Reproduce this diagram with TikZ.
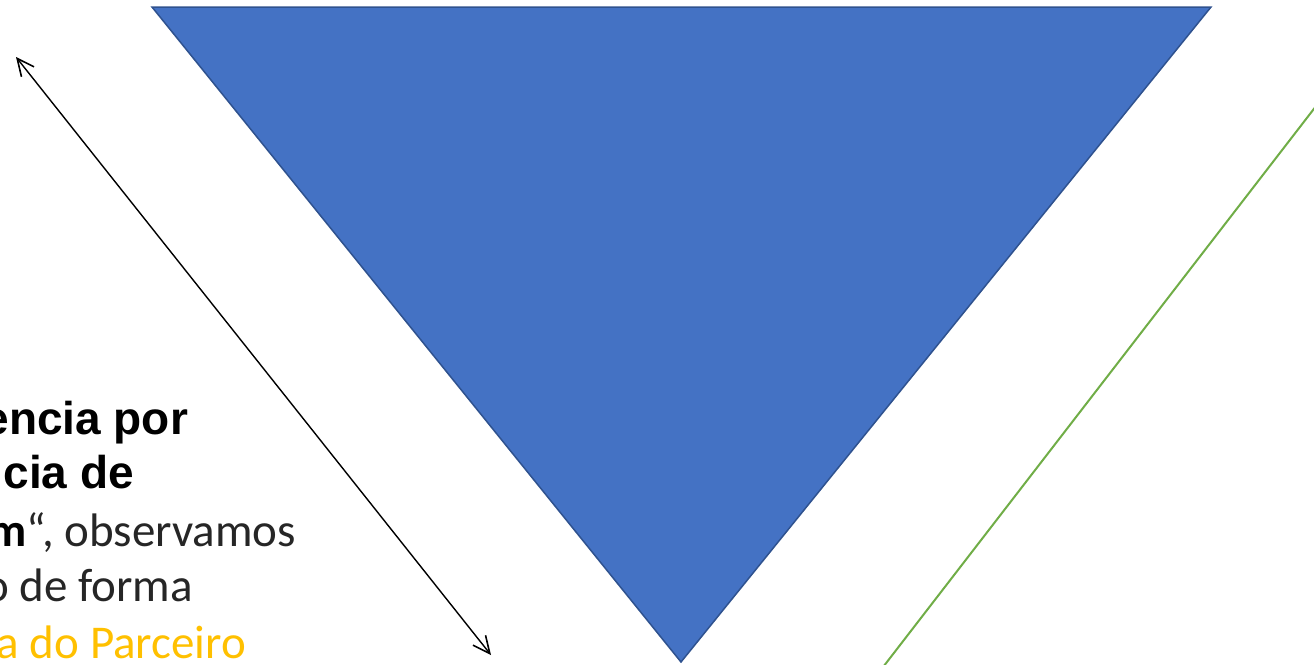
\documentclass[tikz,border=0pt]{standalone}
\usepackage{fontspec}
\setmainfont{Carlito}
\newfontfamily\arialbold{Liberation Sans}
\usetikzlibrary{arrows.meta}
\definecolor{triFill}{HTML}{4472C4}
\definecolor{triEdge}{HTML}{2F528F}
\definecolor{greenLine}{HTML}{70AD47}
\definecolor{bodyText}{HTML}{262626}
\definecolor{accentOrange}{HTML}{FFC000}
\tikzset{
  txtline/.style={anchor=base east, inner sep=0pt, outer sep=0pt},
  boldline/.style={txtline, font=\fontsize{46}{54}\selectfont\arialbold\bfseries, text=black},
  bodyline/.style={txtline, font=\fontsize{47}{56}\selectfont, text=bodyText},
  dimarrow/.style={draw=black, line width=1.4pt, {Straight Barb[length=17pt,width=16pt,line width=1.6pt]}-{Straight Barb[length=17pt,width=16pt,line width=1.6pt]}},
}
\begin{document}
\begin{tikzpicture}[x=1pt,y=-1pt]
\useasboundingbox (0,0) rectangle (1314,664);
\clip (0,0) rectangle (1314,664);
% inverted triangle
\draw[fill=triFill, draw=triEdge, line width=1.5pt, line join=miter]
  (152,7) -- (1211,7) -- (681,662) -- cycle;
% green line
\coordinate (gA) at (1330,88);
\coordinate (gB) at (880,671);
\draw[greenLine, line width=2pt] (gA) -- (gB);
% double arrow
\coordinate (aA) at (16,57);
\coordinate (aB) at (491,655);
\draw[dimarrow] (aA) -- (aB);
% text lines
\node[boldline] (t1) at (188,434) {encia por};
\node[boldline] (t2) at (134,488) {cia de};
\node[bodyline] (t3) at (296,546) {{\bfseries\color{black}m}“, observamos};
\node[bodyline] (t4) at (193,601) {o de forma};
\node[bodyline, text=accentOrange] (t5) at (246,658) {a do Parceiro};
\end{tikzpicture}
\end{document}
